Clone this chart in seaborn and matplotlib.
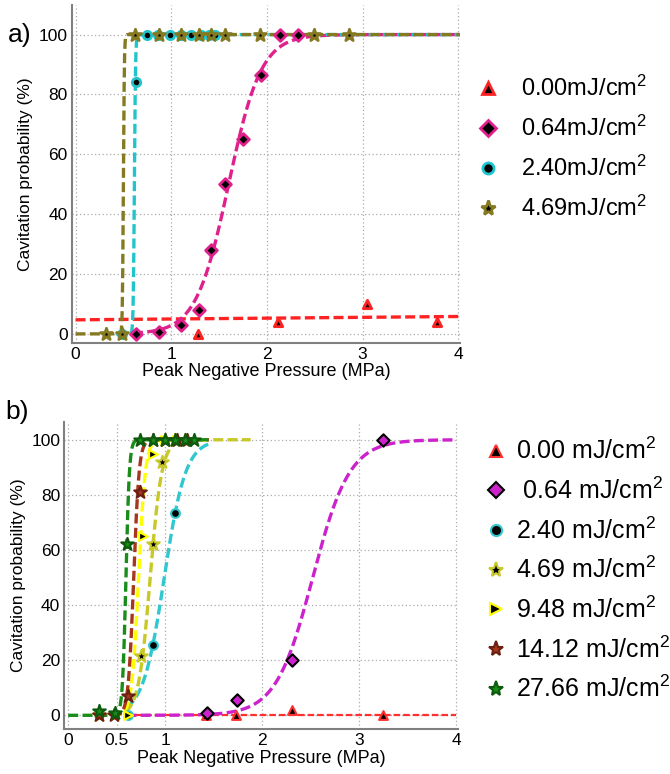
"""Cavitation probability vs peak negative pressure, two panels (a, b)."""

import matplotlib
matplotlib.use("Agg")
import matplotlib.pyplot as plt
from matplotlib.lines import Line2D
from matplotlib.ticker import MultipleLocator
import numpy as np
import pandas as pd
import seaborn as sns

# ---- panel a data -------------------------------------------------------
a_labels = ["0.00mJ/cm$^2$", "0.64mJ/cm$^2$", "2.40mJ/cm$^2$", "4.69mJ/cm$^2$"]
a_colors = ["#ff2222", "#e0208c", "#22c4cc", "#857a22"]
a_markers = ["^", "D", "o", "*"]

a_x = [
    [1.28, 2.12, 3.05, 3.78],
    [0.63, 0.87, 1.10, 1.29, 1.42, 1.56, 1.75, 1.94, 2.14, 2.32],
    [0.49, 0.63, 0.75, 0.86, 0.99, 1.10, 1.21, 1.31, 1.39, 1.46],
    [0.32, 0.49, 0.62, 0.87, 1.10, 1.29, 1.42, 1.56, 1.93, 2.49, 2.86],
]
a_y = [
    [0, 4, 10, 4],
    [0, 0.5, 3, 8, 28, 50, 65, 86.5, 100, 100],
    [0, 84, 100, 100, 100, 100, 100, 100, 100, 100],
    [0, 0, 100, 100, 100, 100, 100, 100, 100, 100, 100],
]
# fitted curves: red is a straight line (intercept, slope), others sigmoid (mid, width)
a_line_fit = (4.7, 0.28)
a_sig_mid = [None, 1.60, 0.615, 0.50]
a_sig_width = [None, 0.17, 0.006, 0.005]
a_fit_start = [0.0, 0.60, 0.42, 0.0]

# ---- panel b data -------------------------------------------------------
b_labels = ["0.00 mJ/cm$^2$", " 0.64 mJ/cm$^2$", "2.40 mJ/cm$^2$", "4.69 mJ/cm$^2$",
            "9.48 mJ/cm$^2$", "14.12 mJ/cm$^2$", "27.66 mJ/cm$^2$"]
b_colors = ["#ff3030", "#cc22cc", "#30c8d0", "#c8c828", "#ffff00", "#a8361c", "#1a8c1a"]
b_markers = ["^", "D", "o", "*", ">", "*", "*"]

b_x = [
    [1.42, 1.73, 2.31, 3.24],
    [1.43, 1.74, 2.31, 3.24],
    [0.62, 0.87, 1.10],
    [0.32, 0.75, 0.87, 0.97, 1.10, 1.20],
    [0.62, 0.77, 0.87, 1.00, 1.12],
    [0.32, 0.47, 0.615, 0.735, 0.87, 1.00, 1.12, 1.22],
    [0.32, 0.48, 0.61, 0.74, 0.87, 1.00, 1.10, 1.20, 1.30],
]
b_y = [
    [0, 0, 2, 0],
    [1, 5.5, 20, 100],
    [0, 25.5, 73.5],
    [0, 21.5, 62, 92, 100, 100],
    [0, 65, 95, 100, 100],
    [0, 0, 7, 81, 100, 100, 100, 100],
    [1.5, 1, 62, 100, 100, 100, 100, 100, 100],
]
b_sig_mid = [None, 2.52, 0.99, 0.845, 0.725, 0.675, 0.595]
b_sig_width = [None, 0.19, 0.11, 0.06, 0.035, 0.028, 0.018]
b_fit_start = [0.60, 0.60, 0.60, 0.30, 0.30, 0.30, 0.0]
b_fit_end = [4.0, 4.0, 1.45, 1.88, 1.45, 1.45, 1.45]

sns.set_style("whitegrid")
plt.rcParams["font.family"] = ["Liberation Sans", "DejaVu Sans"]
plt.rcParams["mathtext.fontset"] = "custom"
plt.rcParams["mathtext.rm"] = "Liberation Sans"
plt.rcParams["mathtext.it"] = "Liberation Sans"
plt.rcParams["text.color"] = "black"
plt.rcParams["axes.labelcolor"] = "black"


def sigmoid(x, mid, width):
    return 100.0 / (1.0 + np.exp(-(x - mid) / width))


def style_axes(ax, xticks, ylim):
    ax.set_xlim(-0.04, 4.02)
    ax.set_ylim(*ylim)
    ax.set_xticks(xticks)
    ax.set_xticklabels([("%g" % t) for t in xticks])
    ax.set_yticks([0, 20, 40, 60, 80, 100])
    ax.xaxis.set_minor_locator(MultipleLocator(0.1))
    ax.yaxis.set_minor_locator(MultipleLocator(5))
    ax.tick_params(which="both", direction="in", color="#777777", labelsize=12.5,
                   labelcolor="black", pad=3)
    ax.tick_params(which="major", length=4)
    ax.tick_params(which="minor", length=2)
    ax.grid(True, which="major", linestyle=(0, (1, 2)), color="#aaaaaa", linewidth=0.9)
    ax.grid(False, which="minor")
    for side in ("top", "right"):
        ax.spines[side].set_visible(False)
    for side in ("left", "bottom"):
        ax.spines[side].set_color("#808080")
        ax.spines[side].set_linewidth(1.5)
    ax.set_xlabel("Peak Negative Pressure (MPa)", fontsize=13, labelpad=1)
    ax.set_ylabel("Cavitation probability (%)", fontsize=12.5, labelpad=4)


fig = plt.figure(figsize=(6.7, 7.74), dpi=100)
ax_a = fig.add_axes([0.107, 0.557, 0.58, 0.437])
ax_b = fig.add_axes([0.096, 0.058, 0.588, 0.397])

dash = (3, 1.3)

# ---- panel a ----
for i in range(4):
    xs = np.linspace(a_fit_start[i], 4.02, 800)
    if a_sig_mid[i] is None:
        ys = a_line_fit[0] + a_line_fit[1] * xs
    else:
        ys = sigmoid(xs, a_sig_mid[i], a_sig_width[i])
    fit = pd.DataFrame({"x": xs, "y": ys})
    sns.lineplot(data=fit, x="x", y="y", ax=ax_a, color=a_colors[i], linewidth=2.4,
                 dashes=False, linestyle="--", zorder=3)
    ax_a.lines[-1].set_dashes(dash)

for i in range(4):
    pts = pd.DataFrame({"x": a_x[i], "y": a_y[i]})
    size = 80 if a_markers[i] == "*" else 36
    sns.scatterplot(data=pts, x="x", y="y", ax=ax_a, marker=a_markers[i], s=size,
                    color="black", edgecolor=a_colors[i], linewidth=2, zorder=5)

style_axes(ax_a, [0, 1, 2, 3, 4], (-3, 110))

# ---- panel b ----
for i in range(7):
    xs = np.linspace(b_fit_start[i], b_fit_end[i], 800)
    if b_sig_mid[i] is None:
        ys = np.full_like(xs, 0.3)
    else:
        ys = sigmoid(xs, b_sig_mid[i], b_sig_width[i])
    fit = pd.DataFrame({"x": xs, "y": ys})
    lw = 1.6 if i == 0 else 2.4
    sns.lineplot(data=fit, x="x", y="y", ax=ax_b, color=b_colors[i], linewidth=lw,
                 dashes=False, linestyle="--", zorder=3)
    ax_b.lines[-1].set_dashes(dash)

b_face = ["black", b_colors[1], "black", "black", "black", b_colors[5], b_colors[6]]
b_edge = [b_colors[0], "black", b_colors[2], b_colors[3], b_colors[4], "#6a1f10", "#0d5a0d"]
for i in range(7):
    pts = pd.DataFrame({"x": b_x[i], "y": b_y[i]})
    size = 90 if b_markers[i] == "*" else 40
    sns.scatterplot(data=pts, x="x", y="y", ax=ax_b, marker=b_markers[i], s=size,
                    color=b_face[i], edgecolor=b_edge[i], linewidth=1.5, zorder=5)

style_axes(ax_b, [0, 0.5, 1, 2, 3, 4], (-5, 106.5))

# ---- legends ----
a_handles = [Line2D([], [], linestyle="none", marker=a_markers[i],
                    markersize=11 if a_markers[i] == "*" else 8,
                    markerfacecolor="black", markeredgecolor=a_colors[i],
                    markeredgewidth=2) for i in range(4)]
fig.legend(a_handles, a_labels, loc="upper left", bbox_to_anchor=(0.71, 0.902),
           frameon=False, fontsize=17, handlelength=1.0, handletextpad=0.9,
           labelspacing=0.63, borderaxespad=0, borderpad=0)

b_handles = [Line2D([], [], linestyle="none", marker=b_markers[i],
                    markersize=11 if b_markers[i] == "*" else 8,
                    markerfacecolor=b_face[i], markeredgecolor=b_edge[i],
                    markeredgewidth=1.5) for i in range(7)]
fig.legend(b_handles, b_labels, loc="upper left", bbox_to_anchor=(0.722, 0.434),
           frameon=False, fontsize=18, handlelength=1.0, handletextpad=0.3,
           labelspacing=0.53, borderaxespad=0, borderpad=0)

fig.text(0.012, 0.955, "a)", fontsize=19, va="center")
fig.text(0.008, 0.468, "b)", fontsize=19, va="center")

fig.savefig("out.png", dpi=100)
